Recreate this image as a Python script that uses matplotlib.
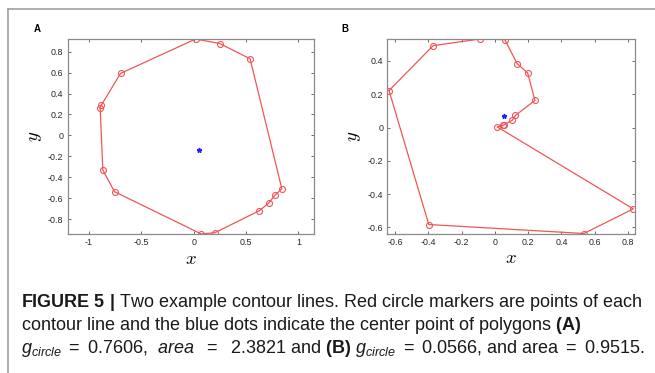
import numpy as np
import matplotlib
matplotlib.use("Agg")
import matplotlib.pyplot as plt
from matplotlib.lines import Line2D

plt.rcParams['mathtext.fontset'] = 'custom'
plt.rcParams['mathtext.rm'] = 'Liberation Sans'
plt.rcParams['mathtext.it'] = 'Liberation Sans:italic'
plt.rcParams['mathtext.bf'] = 'Liberation Sans:bold'

# ---- data ----
xa = [0.019, 0.249, 0.539, 0.842, 0.778, 0.715, 0.628, 0.204, 0.073,
      -0.756, -0.868, -0.893, -0.884, -0.699]
ya = [0.921, 0.878, 0.732, -0.509, -0.570, -0.649, -0.719, -0.929, -0.942,
      -0.538, -0.331, 0.261, 0.286, 0.592]
center_a = (0.051, -0.140)

xb = [-0.636, -0.371, -0.090, 0.060, 0.134, 0.197, 0.241, 0.124, 0.104,
      0.056, 0.050, 0.014, 0.832, 0.535, -0.397]
yb = [0.222, 0.492, 0.532, 0.528, 0.384, 0.328, 0.163, 0.073, 0.043,
      0.017, 0.013, 0.004, -0.489, -0.637, -0.583]
center_b = (0.056, 0.071)

xticks_a = [-1, -0.5, 0, 0.5, 1]
yticks_a = [-0.8, -0.6, -0.4, -0.2, 0, 0.2, 0.4, 0.6, 0.8]
xticks_b = [-0.6, -0.4, -0.2, 0, 0.2, 0.4, 0.6, 0.8]
yticks_b = [-0.6, -0.4, -0.2, 0, 0.2, 0.4]

caption = [
    r"$\mathbf{FIGURE\ 5\ |}$ Two example contour lines. Red circle markers are points of each",
    r"contour line and the blue dots indicate the center point of polygons $\mathbf{(A)}$",
    r"$g_{circle}$ $=$ 0.7606,  $area$  $=$  2.3821 and $\mathbf{(B)}$ $g_{circle}$ $=$ 0.0566, and area $=$ 0.9515.",
]

W, H = 655, 373
fig = plt.figure(figsize=(W / 100, H / 100), dpi=100)

# frame lines (top and left)
fig.add_artist(Line2D([8 / W, 1], [1 - 9 / H, 1 - 9 / H], color='#a0a0a0', lw=1.2))
fig.add_artist(Line2D([8 / W, 8 / W], [1 - 9 / H, 0], color='#a0a0a0', lw=1.2))

def fmt(v):
    return '%g' % v

def panel(rect_px, xs, ys, c, xt, yt, label, label_pos):
    l, t, r, b = rect_px
    ax = fig.add_axes([l / W, 1 - b / H, (r - l) / W, (b - t) / H])
    px = np.append(xs, xs[0])
    py = np.append(ys, ys[0])
    ax.plot(px, py, '-', color='#f25555', lw=0.9)
    ax.plot(xs, ys, 'o', mfc='none', mec='#f25555', ms=4.3, mew=0.8)
    ax.plot([c[0]], [c[1]], '*', color='#2222ff', ms=3.5)
    # axis equal, tight
    xmin, xmax = min(xs), max(xs)
    ymin, ymax = min(ys), max(ys)
    wpx, hpx = r - l, b - t
    xr, yr = xmax - xmin, ymax - ymin
    if xr / wpx > yr / hpx:
        yr2 = xr * hpx / wpx
        yc = (ymin + ymax) / 2
        ax.set_xlim(xmin, xmax)
        ax.set_ylim(yc - yr2 / 2, yc + yr2 / 2)
    else:
        xr2 = yr * wpx / hpx
        xc = (xmin + xmax) / 2
        ax.set_ylim(ymin, ymax)
        ax.set_xlim(xc - xr2 / 2, xc + xr2 / 2)
    ax.set_xticks(xt)
    ax.set_xticklabels([fmt(v) for v in xt])
    ax.set_yticks(yt)
    ax.set_yticklabels([fmt(v) for v in yt])
    ax.tick_params(direction='in', length=2.2, width=0.6, color='#555555',
                   labelsize=6.4, labelcolor='#262626', top=True, right=True, pad=3)
    for lab in ax.get_xticklabels() + ax.get_yticklabels():
        lab.set_family('Liberation Sans')
    for s in ax.spines.values():
        s.set_color('#8a8a8a')
        s.set_linewidth(0.9)
    ax.set_xlabel(r'$x$', fontsize=13.5, math_fontfamily='cm', labelpad=1)
    ax.set_ylabel(r'$y$', fontsize=13.5, math_fontfamily='cm', labelpad=3)
    fig.text(label_pos[0] / W, 1 - label_pos[1] / H, label, fontsize=7,
             fontweight='bold', family='Liberation Sans', ha='center', va='center')
    return ax

panel((67.7, 39, 314.3, 234), xa, ya, center_a, xticks_a, yticks_a, 'A', (37, 29.5))
panel((387.3, 39, 635, 233.5), xb, yb, center_b, xticks_b, yticks_b, 'B', (345, 28.5))

for i, line in enumerate(caption):
    fig.text(21 / W, 1 - (307 + 23 * i) / H, line, fontsize=13, family='Liberation Sans',
             color='#1a1a1a', ha='left', va='baseline')

fig.savefig('out.png', dpi=100)
